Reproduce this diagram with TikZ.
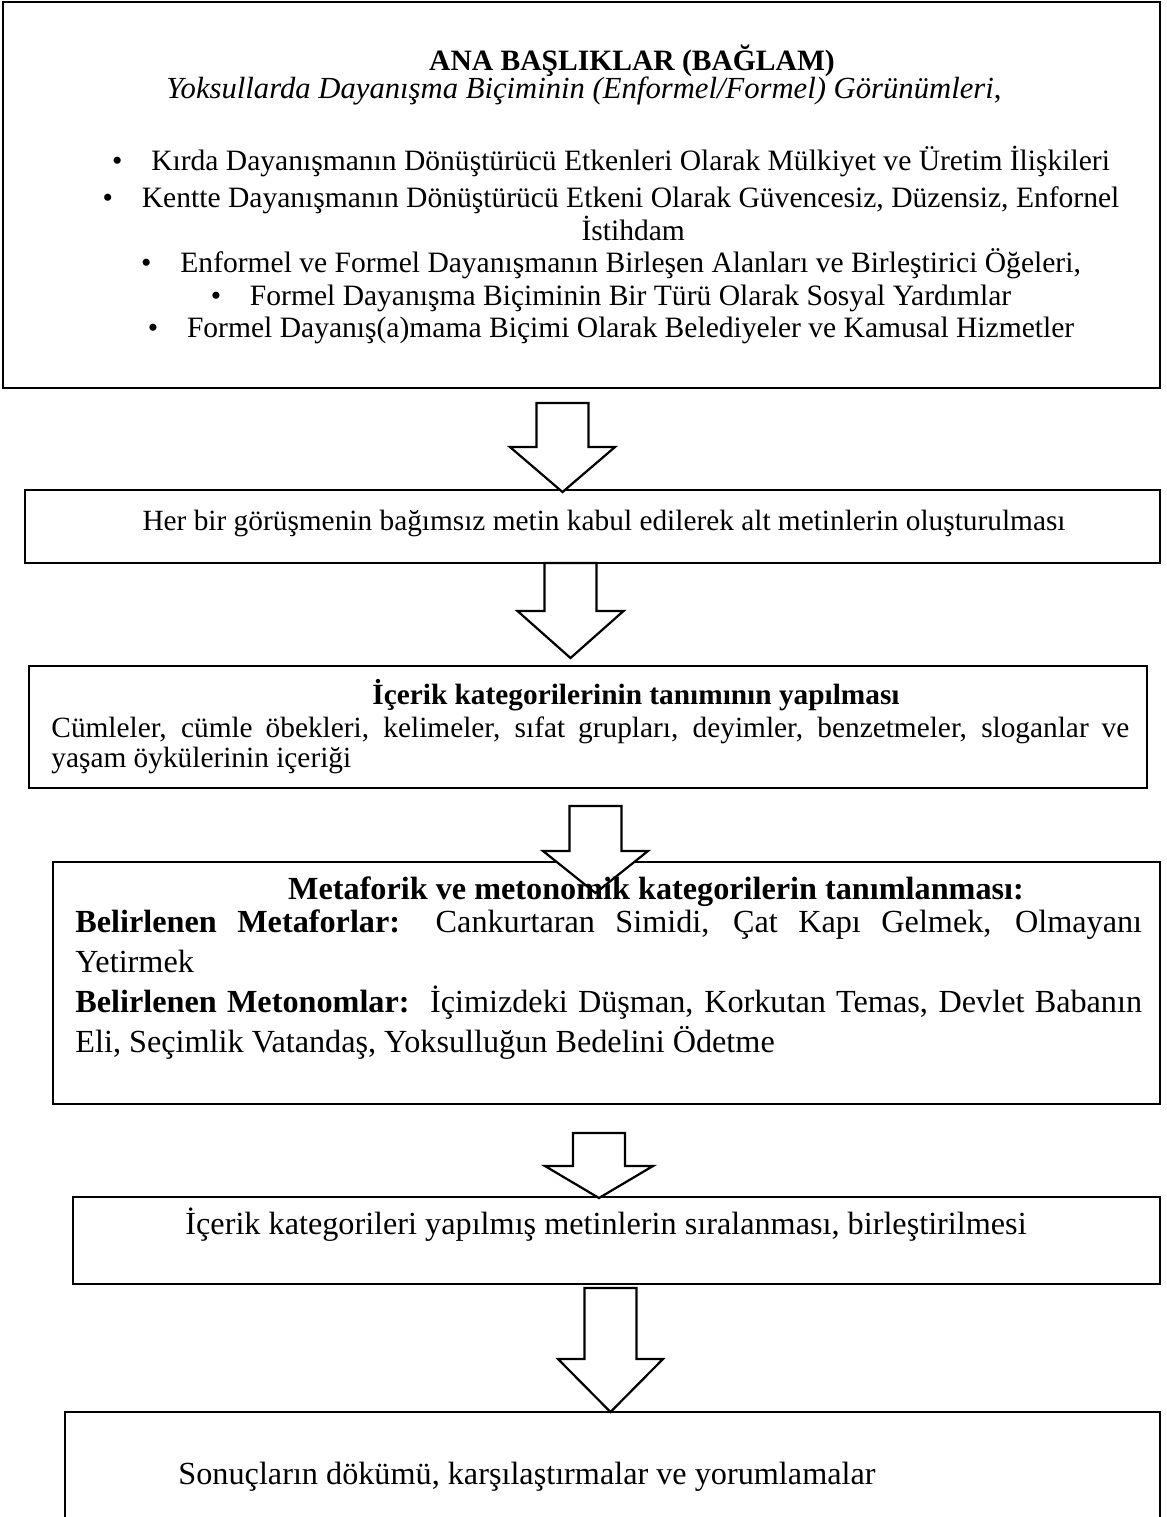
\documentclass[12pt,tikz,border=0pt]{standalone}
\usepackage{fontspec}
\setmainfont{Liberation Serif}
\usetikzlibrary{positioning}
\hyphenpenalty=10000
\exhyphenpenalty=10000

\tikzset{
  box/.style={draw, line width=0.9pt, inner sep=0pt},
  txt/.style={inner sep=0pt, anchor=base},
  para/.style={inner sep=0pt, anchor=base west, align=justify},
  blockarrow/.style={draw, line width=1pt, fill=white, line join=miter},
  upper/.style={font=\fontsize{13.3}{14.85}\selectfont},
  middle/.style={font=\fontsize{13.2}{13.5}\selectfont},
  lower/.style={font=\fontsize{14.5}{18}\selectfont},
}

% block arrow pointing down: centre x, shaft top, head top, tip, half width of head
\newcommand{\downblock}[5]{%
  \draw[blockarrow] (#1-26,#2) -- (#1+26,#2) -- (#1+26,#3) -- (#1+#5,#3)
    -- (#1,#4) -- (#1-#5,#3) -- (#1-26,#3) -- cycle;}

\begin{document}
\begin{tikzpicture}[x=0.45pt, y=-0.45pt]
    \clip (0,0) rectangle (1167,1517);

    % Boxes
    \node (b1) [box, minimum width=1157*0.45pt, minimum height=386*0.45pt] at (581.5,195) {};
    \node (b2) [box, minimum width=1135*0.45pt, minimum height=73*0.45pt] at (592.5,526.5) {};
    \node (b3) [box, minimum width=1118*0.45pt, minimum height=122*0.45pt] at (588,727) {};
    \node (b4) [box, minimum width=1107*0.45pt, minimum height=242*0.45pt] at (606.5,983) {};
    \node (b5) [box, minimum width=1087*0.45pt, minimum height=87*0.45pt] at (616.5,1240.5) {};
    \node (b6) [box, minimum width=1095*0.45pt, minimum height=180*0.45pt] at (612.5,1502) {};

    % Arrows
    \downblock{562.5}{403}{447}{492}{52.5}
    \downblock{570.5}{563}{611}{658}{53}
    \downblock{595.5}{806}{851}{893}{52.5}
    \downblock{599}{1133}{1166}{1198}{54}
    \downblock{610.5}{1288}{1359}{1412}{52.5}

    % Ana basliklar
    \node (head) [txt, font=\fontsize{13.3}{15}\selectfont\bfseries] at (632,70) {ANA BAŞLIKLAR (BAĞLAM)};
    \node (sub) [txt, font=\fontsize{13.8}{15}\selectfont] at (584,98)
      {\textit{Yoksullarda Dayanışma Biçiminin (Enformel/Formel) Görünümleri},};
    \node (i1) [txt, upper] at (611,170) {\textbullet\hspace{13pt}Kırda Dayanışmanın Dönüştürücü Etkenleri Olarak Mülkiyet ve Üretim İlişkileri};
    \node (i2) [txt, upper, align=center] at (611,240)
      {\textbullet\hspace{13pt}Kentte Dayanışmanın Dönüştürücü Etkeni Olarak Güvencesiz, Düzensiz, Enfornel\\\hspace*{20pt}İstihdam};
    \node (i3) [txt, upper] at (611,272) {\textbullet\hspace{13pt}Enformel ve Formel Dayanışmanın Birleşen Alanları ve Birleştirici Öğeleri,};
    \node (i4) [txt, upper] at (611,305) {\textbullet\hspace{13pt}Formel Dayanışma Biçiminin Bir Türü Olarak Sosyal Yardımlar};
    \node (i5) [txt, upper] at (611,337) {\textbullet\hspace{13pt}Formel Dayanış(a)mama Biçimi Olarak Belediyeler ve Kamusal Hizmetler};

    % Alt metinler
    \node (s2) [txt, middle] at (604,530) {Her bir görüşmenin bağımsız metin kabul edilerek alt metinlerin oluşturulması};

    % Icerik kategorileri
    \node (h3) [txt, font=\fontsize{13.2}{15}\selectfont\bfseries] at (636,704) {İçerik kategorilerinin tanımının yapılması};
    \node (p3) [para, middle, text width=485pt] at (51,737)
      {Cümleler, cümle öbekleri, kelimeler, sıfat grupları, deyimler, benzetmeler, sloganlar ve\linebreak
       yaşam öykülerinin içeriği};

    % Metaforik ve metonomik kategoriler
    \node (h4) [txt, font=\fontsize{14.5}{18}\selectfont\bfseries] at (656,899) {Metaforik ve metonomik kategorilerin tanımlanması:};
    \node (p4) [para, lower, text width=480pt] at (75,932)
      {\textbf{Belirlenen Metaforlar:} Cankurtaran Simidi, Çat Kapı Gelmek, Olmayanı\linebreak
       Yetirmek\par
       \textbf{Belirlenen Metonomlar:}\ \ İçimizdeki Düşman, Korkutan Temas, Devlet Babanın\linebreak
       Eli, Seçimlik Vatandaş, Yoksulluğun Bedelini Ödetme};

    % Siralama ve sonuc
    \node (s5) [txt, lower] at (606,1234) {İçerik kategorileri yapılmış metinlerin sıralanması, birleştirilmesi};
    \node (s6) [txt, lower] at (527,1484) {Sonuçların dökümü, karşılaştırmalar ve yorumlamalar};
\end{tikzpicture}
\end{document}
